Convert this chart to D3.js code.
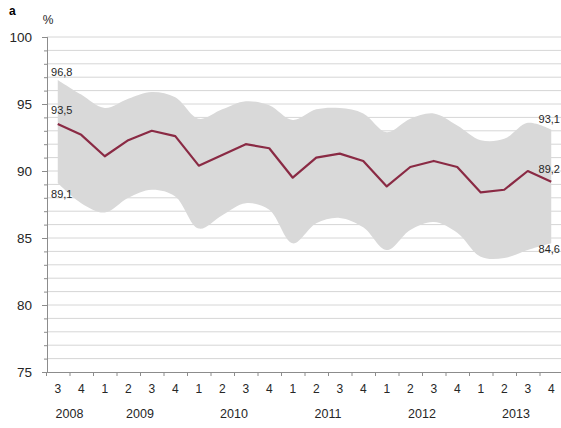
<!DOCTYPE html>
<html>
<head>
<meta charset="utf-8">
<script src="https://cdn.jsdelivr.net/npm/d3@7/dist/d3.min.js"></script>
<style>
  html, body { margin: 0; padding: 0; background: #fff; }
  svg { display: block; font-family: "Liberation Sans", Arial, sans-serif; }
</style>
</head>
<body>
<svg id="chart" width="561" height="428"></svg>
<script>
// Quarterly series, 2008 Q3 – 2013 Q4
const quarters = ["3","4","1","2","3","4","1","2","3","4","1","2","3","4","1","2","3","4","1","2","3","4"];
const years    = [2008,2008,2009,2009,2009,2009,2010,2010,2010,2010,2011,2011,2011,2011,2012,2012,2012,2012,2013,2013,2013,2013];
const central  = [93.5,92.7,91.1,92.3,93.0,92.6,90.4,91.2,92.0,91.7,89.5,91.0,91.3,90.75,88.85,90.3,90.75,90.3,88.4,88.6,90.0,89.2];
const upper    = [96.8,95.7,94.7,95.4,95.9,95.5,93.9,94.6,95.2,94.9,93.8,94.6,94.7,94.3,92.9,93.9,94.3,93.4,92.3,92.4,93.6,93.1];
const lower    = [89.1,87.6,86.9,88.0,88.6,88.1,85.7,86.7,87.6,87.1,84.6,86.1,86.5,85.8,84.1,85.6,86.2,85.4,83.6,83.5,84.1,84.6];
const yMajorTicks = [75,80,85,90,95,100];

// Value labels at the ends of the band and of the line
const endLabels = [
  { i: 0,  v: upper[0],    dx: 4,  dy: -8 },
  { i: 0,  v: central[0],  dx: 4,  dy: -14 },
  { i: 0,  v: lower[0],    dx: 4,  dy: 11 },
  { i: 21, v: upper[21],   dx: -2, dy: -10 },
  { i: 21, v: central[21], dx: -2, dy: -13 },
  { i: 21, v: lower[21],   dx: -2, dy: 6 }
];

const svg = d3.select("#chart");
const idx = d3.range(quarters.length);

const x = d3.scaleBand().domain(idx).range([46, 563]).padding(0);
const xEdge = d3.scaleLinear().domain([0, quarters.length]).range([46, 563]);
const y = d3.scaleLinear().domain([75, 100]).range([372, 37]);
const cx = i => x(i) + x.bandwidth() / 2;

const textColor = "#262626";
const axisColor = "#8c8c8c";

// Horizontal gridlines at every unit
svg.append("g")
  .selectAll("line")
  .data(d3.range(76, 101))
  .join("line")
  .attr("x1", 47).attr("x2", 563)
  .attr("y1", d => y(d)).attr("y2", d => y(d))
  .attr("stroke", "#d6d6d6")
  .attr("stroke-width", 1);

// Range band
const band = d3.area()
  .x(i => cx(i))
  .y0(i => y(lower[i]))
  .y1(i => y(upper[i]))
  .curve(d3.curveCatmullRom.alpha(0.5));

svg.append("path")
  .datum(idx)
  .attr("d", band)
  .attr("fill", "#d9d9d9");

// Central line
const line = d3.line()
  .x(i => cx(i))
  .y(i => y(central[i]));

svg.append("path")
  .datum(idx)
  .attr("d", line)
  .attr("fill", "none")
  .attr("stroke", "#8a2a44")
  .attr("stroke-width", 2.2)
  .attr("stroke-linejoin", "round");

// Y axis: minor ticks every unit, labelled major ticks every 5
const yMinor = svg.append("g")
  .attr("transform", "translate(47,0)")
  .call(d3.axisLeft(y).tickValues(d3.range(75, 101)).tickSize(3).tickFormat(""));
const yMajor = svg.append("g")
  .attr("transform", "translate(47,0)")
  .call(d3.axisLeft(y).tickValues(yMajorTicks).tickSize(5).tickPadding(10));
[yMinor, yMajor].forEach(g => {
  g.select(".domain").attr("stroke", axisColor);
  g.selectAll(".tick line").attr("stroke", axisColor);
});
yMajor.selectAll(".tick text")
  .attr("fill", textColor)
  .style("font-size", "13.5px");

// X axis line with ticks at quarter boundaries
const xTicks = svg.append("g")
  .attr("transform", "translate(0,372)")
  .call(d3.axisBottom(xEdge).tickValues(d3.range(0, quarters.length + 1)).tickSize(4).tickFormat("").tickSizeOuter(0));
xTicks.select(".domain").attr("stroke", axisColor);
xTicks.selectAll(".tick line").attr("stroke", axisColor);

// Quarter labels
const xLabels = svg.append("g")
  .attr("transform", "translate(0,372)")
  .call(d3.axisBottom(x).tickSize(0).tickPadding(12).tickFormat(i => quarters[i]));
xLabels.select(".domain").remove();
xLabels.selectAll(".tick text")
  .attr("fill", textColor)
  .style("font-size", "12px");

// Year labels centred under their quarters
const yearGroups = d3.groups(idx, i => years[i]);
svg.append("g")
  .selectAll("text")
  .data(yearGroups)
  .join("text")
  .attr("x", d => d3.mean(d[1], i => cx(i)))
  .attr("y", 414)
  .attr("dy", "0.35em")
  .attr("text-anchor", "middle")
  .attr("fill", textColor)
  .style("font-size", "12.5px")
  .text(d => d[0]);

// End value labels (decimal comma)
const fmt = v => d3.format(".1f")(v).replace(".", ",");
svg.append("g")
  .selectAll("text")
  .data(endLabels)
  .join("text")
  .attr("x", d => cx(d.i) + d.dx)
  .attr("y", d => y(d.v) + d.dy)
  .attr("dy", "0.35em")
  .attr("text-anchor", "middle")
  .attr("fill", textColor)
  .style("font-size", "11px")
  .text(d => fmt(d.v));

// Unit and panel letter
svg.append("text")
  .attr("x", 48).attr("y", 20).attr("dy", "0.35em")
  .attr("text-anchor", "middle")
  .attr("fill", textColor)
  .style("font-size", "12px")
  .text("%");
svg.append("text")
  .attr("x", 9).attr("y", 15)
  .attr("fill", "#000")
  .style("font-size", "12px")
  .style("font-weight", "bold")
  .text("a");
</script>
</body>
</html>
